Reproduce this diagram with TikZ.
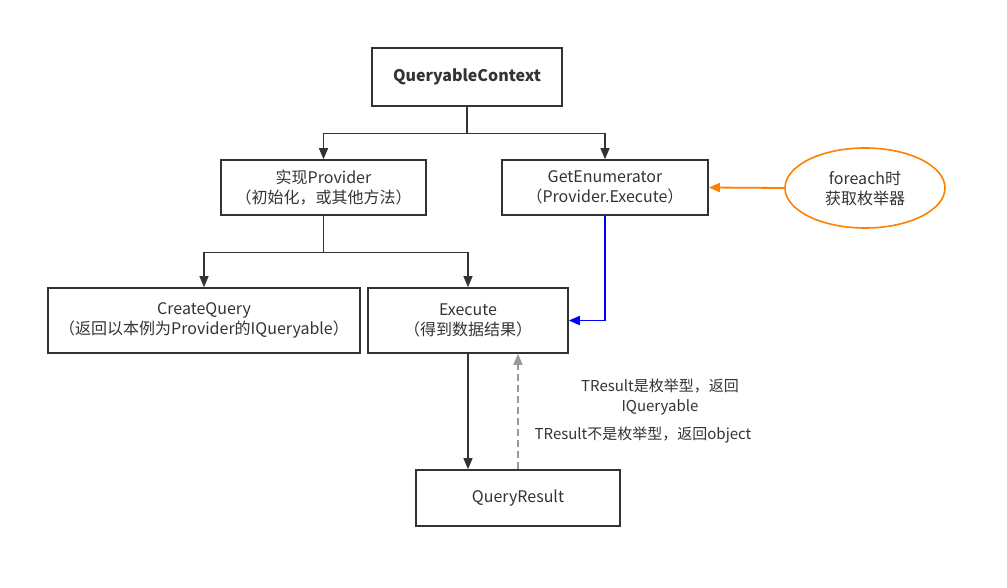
\documentclass[tikz,border=0pt]{standalone}
\usepackage{fontspec}
\setmainfont{Noto Sans CJK SC}
\usetikzlibrary{arrows.meta,shapes.geometric}
\definecolor{linegray}{HTML}{333333}
\definecolor{dashgray}{HTML}{999999}
\definecolor{feorange}{HTML}{FF8000}
\definecolor{exeblue}{HTML}{0000FF}

\begin{document}
\begin{tikzpicture}[
  x=1pt, y=-1pt,
  box/.style={rectangle, draw=linegray, line width=1.6pt, align=center, inner sep=2pt, font=\fontsize{16}{20}\selectfont, text=linegray},
  flow/.style={draw=linegray, line width=1.3pt, -{Triangle[length=11pt,width=9pt]}},
  back/.style={draw=dashgray, line width=1.3pt, dashed, dash pattern=on 7pt off 4pt, -{Triangle[length=11pt,width=9pt]}},
  lbl/.style={font=\fontsize{15}{20}\selectfont, text=linegray, align=center, inner sep=0pt}
]

  % Canvas
  \useasboundingbox (0,0) rectangle (1007,588);

  % Boxes
  \node[box, minimum width=190pt, minimum height=58pt, font=\bfseries\fontsize{16}{20}\selectfont] (ctx) at (467,77) {QueryableContext};
  \node[box, minimum width=205pt, minimum height=55pt] (prov) at (323.5,187.5) {实现Provider\\（初始化，或其他方法）};
  \node[box, minimum width=206pt, minimum height=55pt] (getenum) at (605,187.5) {GetEnumerator\\（Provider.Execute）};
  \node[ellipse, draw=feorange, line width=1.6pt, minimum width=160pt, minimum height=80pt, align=center, font=\fontsize{16}{20}\selectfont, text=linegray] (foreach) at (865,188) {foreach时\\获取枚举器};
  \node[box, minimum width=312pt, minimum height=65pt] (cquery) at (204,320.5) {CreateQuery\\（返回以本例为Provider的IQueryable）};
  \node[box, minimum width=200pt, minimum height=65pt] (exec) at (468,320.5) {Execute\\（得到数据结果）};
  \node[box, minimum width=204pt, minimum height=56pt] (qresult) at (518,498) {QueryResult};

  % Connectors
  \draw[flow] (ctx.south) -- ++(0,27) -| (prov.north);
  \draw[flow] (ctx.south) -- ++(0,27) -| (getenum.north);
  \draw[flow] (prov.south) -- ++(0,37) -| (cquery.north);
  \draw[flow] (prov.south) -- ++(0,37) -| (exec.north);
  \draw[flow, draw=exeblue, line width=1.8pt] (getenum.south) |- (exec.east);
  \draw[flow, draw=feorange, line width=1.8pt] (foreach.west) -- (getenum.east);
  \draw[flow] (exec.south) -- (exec.south |- qresult.north);
  \draw[back] (qresult.north) -- (qresult.north |- exec.south);

  % Return notes
  \node[lbl] (isenum) at (660,397) {TResult是枚举型，返回\\IQueryable};
  \node[lbl] (notenum) at (643,435) {TResult不是枚举型，返回object};

\end{tikzpicture}
\end{document}
